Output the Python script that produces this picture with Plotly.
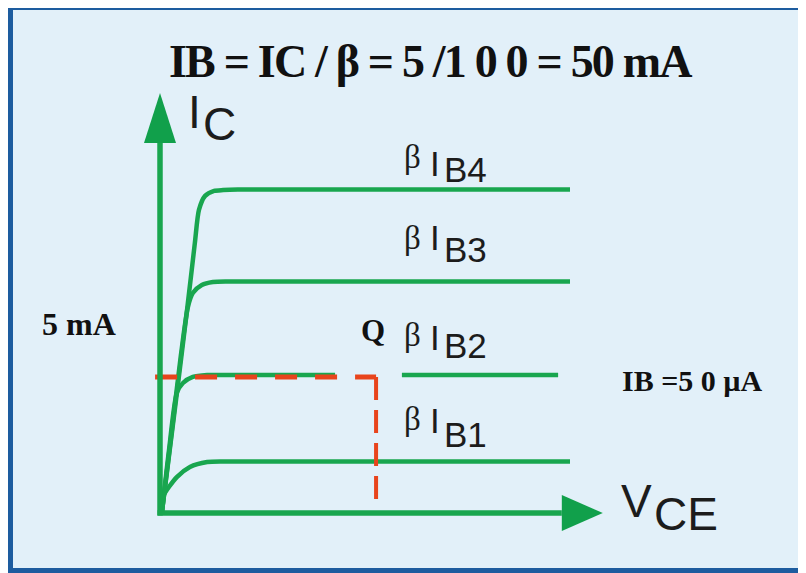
import plotly.graph_objects as go

W, H = 806, 573
OFF = 8  # page body margin: figure is drawn 8px right/down in the window

# ---- data (VCE in V, IC in mA) ----
ib1_vce = [0.05, 0.07, 0.41, 0.73, 1.15, 1.60, 10.0]
ib1_ic = [0.07, 0.58, 1.30, 1.67, 1.85, 1.87, 1.87]

ib2_vce = [0.05, 0.22, 0.41, 0.56, 0.80, 1.15, 1.60, 4.27]
ib2_ic = [0.07, 2.28, 4.35, 4.71, 4.93, 5.00, 5.00, 5.00]
ib2b_vce = [5.90, 9.71]
ib2b_ic = [5.00, 5.00]

ib3_vce = [0.05, 0.32, 0.51, 0.68, 0.80, 1.02, 1.29, 1.70, 10.0]
ib3_ic = [0.07, 3.37, 5.72, 7.46, 7.97, 8.26, 8.37, 8.39, 8.39]

ib4_vce = [0.05, 0.39, 0.66, 0.85, 0.95, 1.10, 1.32, 1.54, 1.90, 10.0]
ib4_ic = [0.07, 4.09, 7.36, 9.78, 10.98, 11.49, 11.67, 11.70, 11.72, 11.72]

q_vce = 5.27      # Q point VCE
q_ic = 4.93       # Q point IC
q_start = -0.12   # dashed line start (left of IC axis)
q_floor = 0.25    # dashed line end (above VCE axis)

vce_axis_end = 9.80
vce_arrow_tip = 10.80
ic_axis_end = 13.41
ic_arrow_tip = 15.22

beta_subs = ["B4", "B3", "B2", "B1"]

# ---- styling ----
GREEN = "#19a64f"
GREEN_DARK = "#11a04b"
RED = "#e8441c"
TXT = "#1c1c1c"
BG = "#e2f0f9"
BORDER = "#1d5c9f"

# pixel <-> data mapping (window pixels): origin at (160, 513), 41 px/V, 27.6 px/mA
SX, SY, X0, Y0 = 41.0, 27.6, 160.0, 513.0
XR = [(OFF - X0) / SX, (OFF + W - X0) / SX]
YR = [(Y0 - (OFF + H)) / SY, (Y0 - OFF) / SY]

fig = go.Figure()

def curve(x, y):
    fig.add_trace(go.Scatter(x=x, y=y, mode="lines",
                             line=dict(color=GREEN, width=4.5, shape="spline", smoothing=0.7),
                             hoverinfo="skip", showlegend=False))

for xs, ys in [(ib1_vce, ib1_ic), (ib2_vce, ib2_ic), (ib2b_vce, ib2b_ic),
               (ib3_vce, ib3_ic), (ib4_vce, ib4_ic)]:
    curve(xs, ys)

# Q point dashed lines
fig.add_trace(go.Scatter(x=[q_start, q_vce], y=[q_ic, q_ic], mode="lines",
                         line=dict(color=RED, width=5, dash="22px,18px"),
                         hoverinfo="skip", showlegend=False))
fig.add_trace(go.Scatter(x=[q_vce, q_vce], y=[q_ic, q_floor], mode="lines",
                         line=dict(color=RED, width=4, dash="23px,10px"),
                         hoverinfo="skip", showlegend=False))

def px_x(p):
    return (p - OFF) / W

def px_y(p):
    return 1 - (p - OFF) / H

shapes = []
shapes.append(dict(type="rect", xref="paper", yref="paper",
                   x0=px_x(10.5), x1=1.05, y0=px_y(570.5), y1=px_y(7.5),
                   fillcolor=BG, line=dict(color=BORDER, width=5), layer="below"))
shapes.append(dict(type="line", xref="x", yref="y", x0=0, x1=0, y0=-0.09, y1=ic_axis_end,
                   line=dict(color=GREEN, width=5.5)))
shapes.append(dict(type="line", xref="x", yref="y", x0=-0.06, x1=vce_axis_end, y0=0, y1=0,
                   line=dict(color=GREEN, width=5.5)))
shapes.append(dict(type="path", xref="x", yref="y",
                   path=f"M -0.39 {ic_axis_end} L 0.39 {ic_axis_end} L 0 {ic_arrow_tip} Z",
                   fillcolor=GREEN_DARK, line=dict(width=0)))
shapes.append(dict(type="path", xref="x", yref="y",
                   path=f"M {vce_axis_end} -0.65 L {vce_axis_end} 0.65 L {vce_arrow_tip} 0 Z",
                   fillcolor=GREEN_DARK, line=dict(width=0)))

ann = []
def txt(px, py, text, size, family, bold=False, color=TXT):
    ann.append(dict(xref="paper", yref="paper", x=px_x(px), y=px_y(py),
                    xanchor="left", yanchor="middle", showarrow=False,
                    text=text, font=dict(size=size, family=family, color=color,
                                         weight=700 if bold else 400)))

SERIF = "Liberation Serif, Times New Roman, serif"
SANS = "Liberation Sans, Arial, sans-serif"

title = "IB = IC / β = 5 /1 0 0 = 50 mA"
txt(167, 62, f"<span style='letter-spacing:-1.8px'>{title}</span>", 46, SERIF, True, "#111")
txt(40, 324, "5 mA", 32, SERIF, True, "#111")
txt(620, 380, "IB =5 0 µA", 30, SERIF, True, "#111")
txt(359, 330, "Q", 31, SERIF, True, "#111")

# axis names (main letter + lowered subscript letters at the same size)
txt(186, 112, "I", 46, SANS)
txt(201, 124, "C", 46, SANS)
txt(619, 501, "V", 46, SANS)
txt(652, 514, "CE", 46, SANS)

# beta * I_B labels
rows_y = [(157, 163, 170), (238, 238, 250), (335, 337, 345), (419, 420, 434)]
for sub, (yb, yi, ys) in zip(beta_subs, rows_y):
    txt(402, yb, "β", 33, SERIF)
    txt(428, yi, "I", 35, SANS)
    txt(442, ys, sub, 35, SANS)

fig.update_layout(
    width=W, height=H,
    margin=dict(l=0, r=0, t=0, b=0),
    paper_bgcolor="white", plot_bgcolor="rgba(0,0,0,0)",
    xaxis=dict(range=XR, visible=False, fixedrange=True),
    yaxis=dict(range=YR, visible=False, fixedrange=True),
    shapes=shapes, annotations=ann, showlegend=False,
)

fig.write_html("out.html")
